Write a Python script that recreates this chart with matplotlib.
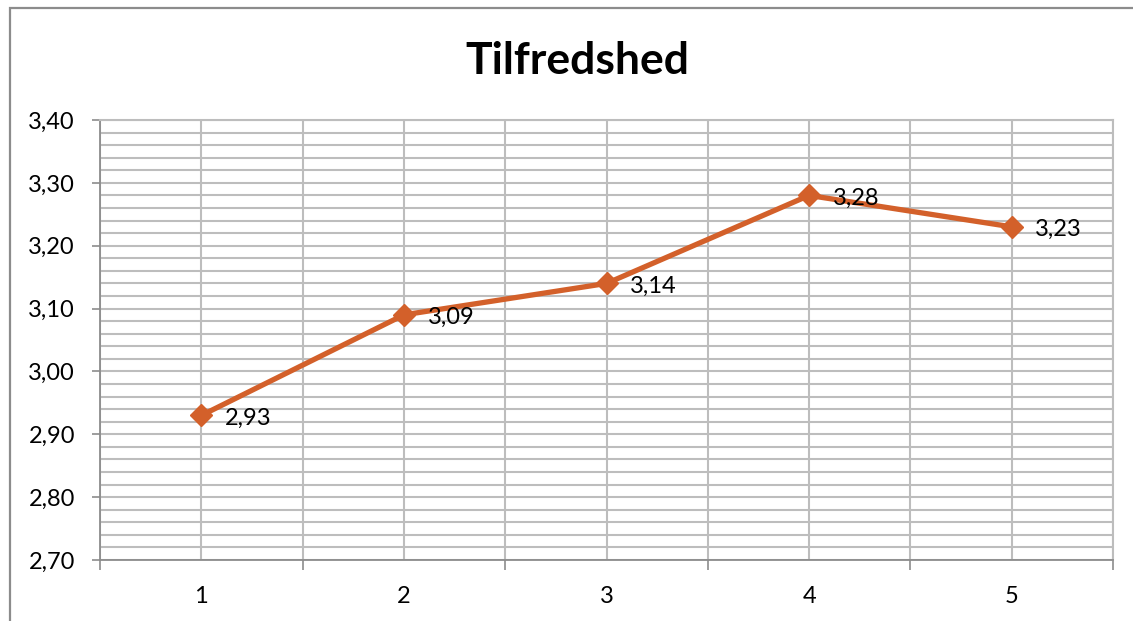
import numpy as np
import matplotlib.pyplot as plt
from matplotlib.patches import Rectangle
from matplotlib.ticker import MultipleLocator, FixedLocator, NullFormatter

plt.rcParams['font.family'] = ['Lato', 'DejaVu Sans']

# data
categories = [1, 2, 3, 4, 5]
scores = [2.93, 3.09, 3.14, 3.28, 3.23]
labels = ['2,93', '3,09', '3,14', '3,28', '3,23']

line_col = '#D3602A'
grid_col = '#BDBDBD'

fig = plt.figure(figsize=(11.33, 6.21), dpi=100)
W, H = 1133, 621
ax = fig.add_axes([100 / W, 1 - 560 / H, (1113 - 100) / W, (560 - 120) / H])

# outer chart frame (open to the right and bottom)
fig.patches.append(Rectangle((10 / W, -0.1), 1.2, 1 - 8 / H + 0.1,
                             transform=fig.transFigure, fill=False,
                             edgecolor='#8C8C8C', linewidth=1.6, zorder=0))

x = np.arange(len(categories))
ax.plot(x, scores, color=line_col, linewidth=3.8, marker='D', markersize=11,
        markerfacecolor=line_col, markeredgecolor=line_col, zorder=5,
        clip_on=False)
for xi, yi, lab in zip(x, scores, labels):
    ax.annotate(lab, (xi, yi), xytext=(17, -2), textcoords='offset points',
                ha='left', va='center', fontsize=17, color='black', zorder=6)

ax.set_xlim(-0.5, len(categories) - 0.5)
ax.set_ylim(2.70, 3.40)

# y axis: majors every 0.10, minors every 0.02
ax.yaxis.set_major_locator(MultipleLocator(0.10))
ax.yaxis.set_minor_locator(MultipleLocator(0.02))
ax.yaxis.set_minor_formatter(NullFormatter())
ax.set_yticklabels([f'{v:.2f}'.replace('.', ',') for v in ax.get_yticks()])

# x axis: labels at centres, ticks at boundaries, gridlines at both
ax.set_xticks(x)
ax.set_xticklabels([str(c) for c in categories])
ax.xaxis.set_minor_locator(FixedLocator(np.arange(-0.5, len(categories), 1.0)))

ax.tick_params(axis='x', which='major', length=0, pad=19, labelsize=17)
ax.tick_params(axis='x', which='minor', length=7, width=1.2, color='#8C8C8C',
               direction='out')
ax.tick_params(axis='y', which='major', length=6, width=1.2, color='#8C8C8C',
               pad=12, labelsize=17)
ax.tick_params(axis='y', which='minor', length=0)

ax.grid(True, which='both', axis='y', color=grid_col, linewidth=1.5)
ax.grid(True, which='both', axis='x', color=grid_col, linewidth=1.5)
ax.set_axisbelow(True)

for side in ['top', 'right']:
    ax.spines[side].set_color(grid_col)
    ax.spines[side].set_linewidth(1.5)
for side in ['left', 'bottom']:
    ax.spines[side].set_color('#8C8C8C')
    ax.spines[side].set_linewidth(1.3)

fig.text(577 / W, 1 - 61 / H, 'Tilfredshed', ha='center', va='center',
         fontsize=32, fontweight='bold')

fig.savefig('out.png', dpi=100)
